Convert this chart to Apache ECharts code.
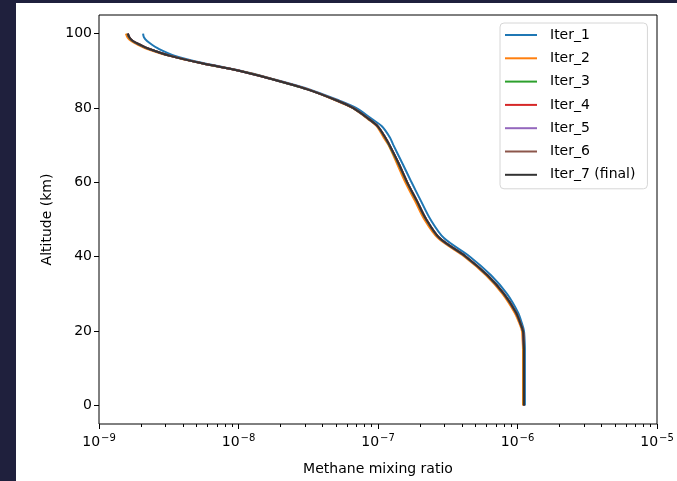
<!DOCTYPE html>
<html>
<head>
<meta charset="utf-8">
<script src="https://cdn.jsdelivr.net/npm/echarts@6/dist/echarts.min.js"></script>
<style>
  html, body { margin: 0; padding: 0; background: #1f203d; }
  #chart { position: absolute; left: 16px; top: 3px; width: 661px; height: 478px; background: #fff; }
</style>
</head>
<body>
<div id="chart"></div>
<script>
// altitude levels (km)
var altitudes = [0, 5, 10, 15, 18, 20, 22, 25, 30, 35, 40, 45, 50, 55, 60, 65, 70, 72, 75, 77, 80, 82, 85, 88, 90, 92, 94, 96, 97, 98, 99, 100];

// methane mixing ratio per iteration, one value per altitude
var iter1 = [1.13e-6, 1.13e-6, 1.13e-6, 1.13e-6, 1.123e-6, 1.113e-6, 1.077e-6, 1.008e-6, 8.41e-7, 6.46e-7, 4.56e-7, 2.97e-7, 2.38e-7, 2.03e-7, 1.74e-7, 1.50e-7, 1.29e-7, 1.22e-7, 1.07e-7, 9.06e-8, 6.96e-8, 5.25e-8, 3.23e-8, 1.68e-8, 1.034e-8, 5.66e-9, 3.51e-9, 2.65e-9, 2.40e-9, 2.21e-9, 2.10e-9, 2.07e-9];
var iter2 = [1.095e-6, 1.095e-6, 1.095e-6, 1.095e-6, 1.086e-6, 1.077e-6, 1.034e-6, 9.52e-7, 7.81e-7, 5.95e-7, 4.17e-7, 2.69e-7, 2.15e-7, 1.84e-7, 1.57e-7, 1.37e-7, 1.19e-7, 1.10e-7, 9.84e-8, 8.48e-8, 6.57e-8, 5.0e-8, 3.15e-8, 1.67e-8, 1.017e-8, 5.43e-9, 3.20e-9, 2.17e-9, 1.90e-9, 1.70e-9, 1.60e-9, 1.56e-9];
var iter3 = [1.11e-6, 1.11e-6, 1.11e-6, 1.11e-6, 1.10e-6, 1.092e-6, 1.048e-6, 9.72e-7, 7.97e-7, 6.07e-7, 4.25e-7, 2.75e-7, 2.21e-7, 1.89e-7, 1.61e-7, 1.40e-7, 1.20e-7, 1.125e-7, 9.97e-8, 8.58e-8, 6.60e-8, 5.06e-8, 3.11e-8, 1.64e-8, 1.006e-8, 5.46e-9, 3.24e-9, 2.23e-9, 1.95e-9, 1.74e-9, 1.64e-9, 1.60e-9];
var iter4 = [1.112e-6, 1.112e-6, 1.112e-6, 1.112e-6, 1.103e-6, 1.094e-6, 1.05e-6, 9.75e-7, 8.0e-7, 6.09e-7, 4.27e-7, 2.76e-7, 2.22e-7, 1.90e-7, 1.62e-7, 1.41e-7, 1.21e-7, 1.13e-7, 1.0e-7, 8.61e-8, 6.62e-8, 5.08e-8, 3.12e-8, 1.64e-8, 1.008e-8, 5.47e-9, 3.25e-9, 2.24e-9, 1.96e-9, 1.75e-9, 1.65e-9, 1.61e-9];
var iter5 = [1.113e-6, 1.113e-6, 1.113e-6, 1.113e-6, 1.104e-6, 1.095e-6, 1.051e-6, 9.75e-7, 8.0e-7, 6.09e-7, 4.27e-7, 2.76e-7, 2.22e-7, 1.90e-7, 1.62e-7, 1.41e-7, 1.21e-7, 1.13e-7, 1.0e-7, 8.62e-8, 6.62e-8, 5.08e-8, 3.12e-8, 1.64e-8, 1.01e-8, 5.47e-9, 3.25e-9, 2.25e-9, 1.97e-9, 1.75e-9, 1.65e-9, 1.61e-9];
var iter6 = [1.113e-6, 1.113e-6, 1.113e-6, 1.113e-6, 1.104e-6, 1.095e-6, 1.051e-6, 9.755e-7, 8.0e-7, 6.09e-7, 4.27e-7, 2.76e-7, 2.22e-7, 1.90e-7, 1.62e-7, 1.41e-7, 1.21e-7, 1.13e-7, 1.0e-7, 8.62e-8, 6.62e-8, 5.08e-8, 3.12e-8, 1.64e-8, 1.01e-8, 5.47e-9, 3.25e-9, 2.25e-9, 1.97e-9, 1.75e-9, 1.65e-9, 1.61e-9];
var iter7 = [1.113e-6, 1.113e-6, 1.113e-6, 1.113e-6, 1.104e-6, 1.095e-6, 1.051e-6, 9.755e-7, 8.0e-7, 6.09e-7, 4.27e-7, 2.76e-7, 2.22e-7, 1.90e-7, 1.62e-7, 1.41e-7, 1.21e-7, 1.13e-7, 1.0e-7, 8.62e-8, 6.62e-8, 5.08e-8, 3.12e-8, 1.64e-8, 1.01e-8, 5.47e-9, 3.25e-9, 2.25e-9, 1.97e-9, 1.75e-9, 1.65e-9, 1.61e-9];

var seriesNames = ['Iter_1', 'Iter_2', 'Iter_3', 'Iter_4', 'Iter_5', 'Iter_6', 'Iter_7 (final)'];
var seriesValues = [iter1, iter2, iter3, iter4, iter5, iter6, iter7];
var colors = ['#1f77b4', '#ff7f0e', '#2ca02c', '#d62728', '#9467bd', '#8c564b', '#333333'];

var yTicks = [0, 20, 40, 60, 80, 100];
var xMin = 1e-9;
var xMax = 1e-5;
// minor ticks at 2..9 x 10^n, as log10 positions
var minorTicks = [];
for (var e = -9; e < -5; e++) {
  for (var k = 2; k <= 9; k++) {
    minorTicks.push(e + Math.log10(k));
  }
}

var font = 'DejaVu Sans';
var chart = echarts.init(document.getElementById('chart'));

var series = [];
for (var i = 0; i < seriesValues.length; i++) {
  var pts = [];
  for (var j = 0; j < altitudes.length; j++) {
    pts.push([seriesValues[i][j], altitudes[j]]);
  }
  series.push({
    name: seriesNames[i],
    type: 'line',
    xAxisIndex: 0,
    data: pts,
    symbol: 'none',
    smooth: 0.3,
    lineStyle: { color: colors[i], width: 2 },
    itemStyle: { color: colors[i] },
    z: 2 + i
  });
}

chart.setOption({
  animation: false,
  textStyle: { fontFamily: font },
  grid: {
    left: 83, right: 20, top: 12, bottom: 57,
    show: true, borderColor: '#000', borderWidth: 1, backgroundColor: 'transparent'
  },
  legend: {
    orient: 'vertical',
    left: 484,
    top: 20,
    width: 150,
    padding: [5, 12, 7, 5],
    itemWidth: 32,
    itemHeight: 14,
    itemGap: 9.3,
    borderColor: '#d6d6d6',
    borderWidth: 1,
    borderRadius: 4,
    backgroundColor: 'rgba(255,255,255,0.8)',
    icon: 'path://M0,6 L32,6 L32,8 L0,8 Z',
    textStyle: { fontFamily: font, fontSize: 14, color: '#000', padding: [0, 0, 0, 8] },
    data: seriesNames
  },
  xAxis: [
    {
      type: 'log',
      logBase: 10,
      min: xMin,
      max: xMax,
      name: 'Methane mixing ratio',
      nameLocation: 'middle',
      nameGap: 38,
      nameTextStyle: { fontFamily: font, fontSize: 14, color: '#000' },
      axisLine: { show: false, onZero: false },
      axisTick: { show: true, length: 5, inside: false, lineStyle: { color: '#000', width: 1 } },
      splitLine: { show: false },
      axisLabel: {
        margin: 9,
        color: '#000',
        formatter: function (value) {
          var ex = Math.round(Math.log10(value));
          return '{b|10}{s|\u2212' + (-ex) + '}';
        },
        rich: {
          b: { fontFamily: font, fontSize: 14, color: '#000', lineHeight: 18 },
          s: { fontFamily: font, fontSize: 10, color: '#000', padding: [0, 0, 9, 1] }
        }
      }
    },
    {
      type: 'value',
      min: -9,
      max: -5,
      position: 'bottom',
      axisLine: { show: false, onZero: false },
      axisLabel: { show: false },
      splitLine: { show: false },
      axisTick: { show: true, length: 3, customValues: minorTicks, lineStyle: { color: '#000', width: 1 } }
    }
  ],
  yAxis: {
    type: 'value',
    min: -5,
    max: 105,
    name: 'Altitude (km)',
    nameLocation: 'middle',
    nameGap: 31,
    nameRotate: 90,
    nameTextStyle: { fontFamily: font, fontSize: 14, color: '#000' },
    axisLine: { show: false, onZero: false },
    splitLine: { show: false },
    axisTick: { show: true, length: 5, customValues: yTicks, lineStyle: { color: '#000', width: 1 } },
    axisLabel: { margin: 7, fontFamily: font, fontSize: 14, color: '#000', customValues: yTicks }
  },
  series: series
});
</script>
</body>
</html>
